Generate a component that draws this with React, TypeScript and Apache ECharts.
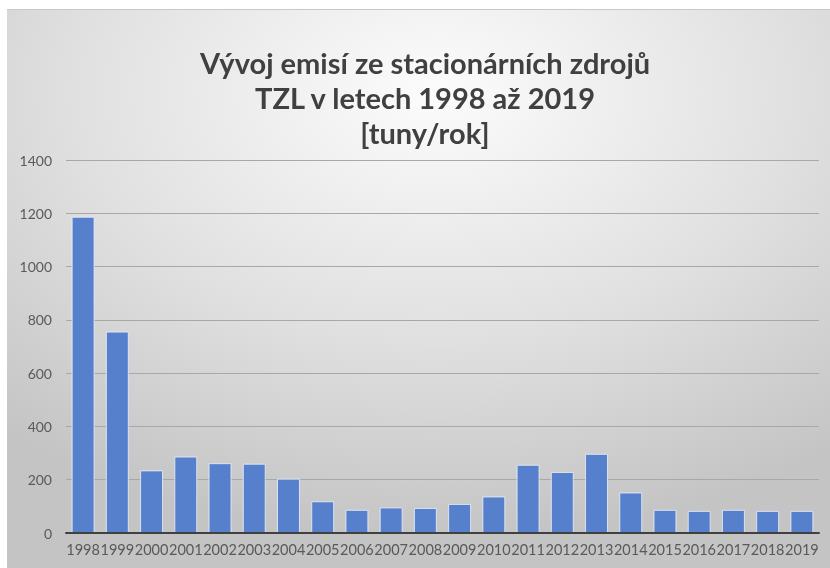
import React, { useEffect, useRef } from "react";
import * as echarts from "echarts";

const years = ["1998","1999","2000","2001","2002","2003","2004","2005","2006","2007","2008","2009","2010","2011","2012","2013","2014","2015","2016","2017","2018","2019"];
const emissions = [1187, 756, 235, 287, 262, 260, 204, 119, 87, 96, 94, 109, 137, 256, 229, 297, 152, 87, 83, 87, 83, 83];
const titleLines = ["Vývoj emisí ze stacionárních zdrojů", "TZL v letech 1998 až 2019", "[tuny/rok]"];

export default function App() {
  const ref = useRef<HTMLDivElement>(null);
  useEffect(() => {
    if (!ref.current) return;
    const chart = echarts.init(ref.current, undefined, { renderer: "svg" });
    chart.setOption({
      animation: false,
      graphic: [
        {
          type: "rect",
          z: -10,
          silent: true,
          shape: { x: 7, y: 9, width: 823, height: 559 },
          style: {
            fill: new echarts.graphic.RadialGradient(0.52, 0.15, 0.8, [
              { offset: 0, color: "#fcfcfc" },
              { offset: 0.55, color: "#e0e0e0" },
              { offset: 1, color: "#c4c4c4" },
            ]),
          },
        },
        {
          type: "line",
          silent: true,
          shape: { x1: 7, y1: 9.5, x2: 830, y2: 9.5 },
          style: { stroke: "#c8c8c8", lineWidth: 1 },
        },
      ],
      title: {
        text: titleLines.join("\n"),
        left: 420,
        top: 40,
        textAlign: "center",
        textStyle: {
          fontFamily: "Lato",
          fontSize: 29,
          fontWeight: "bold",
          lineHeight: 35,
          color: "#404040",
        },
      },
      grid: { left: 66, right: 11, top: 160, bottom: 35, containLabel: false },
      xAxis: {
        type: "category",
        data: years,
        z: 5,
        axisTick: { show: false },
        axisLine: { lineStyle: { color: "#404040", width: 2 } },
        axisLabel: { interval: 0, color: "#595959", fontFamily: "Lato", fontSize: 14.5, margin: 9 },
      },
      yAxis: {
        type: "value",
        min: 0,
        max: 1400,
        interval: 200,
        axisLabel: { color: "#595959", fontFamily: "Lato", fontSize: 14, margin: 14, formatter: (v: number) => String(v) },
        splitLine: { lineStyle: { color: "#a8a8a8", width: 1 } },
        axisLine: { show: false },
        axisTick: { show: false },
      },
      series: [
        {
          type: "bar",
          data: emissions,
          barCategoryGap: "33%",
          itemStyle: {
            color: "#5680cb",
            borderColor: "rgba(235,240,250,0.8)",
            borderWidth: 1,
          },
        },
      ],
    });
    return () => chart.dispose();
  }, []);
  return <div ref={ref} style={{ position: "fixed", left: 0, top: 0, width: 830, height: 568 }} />;
}
